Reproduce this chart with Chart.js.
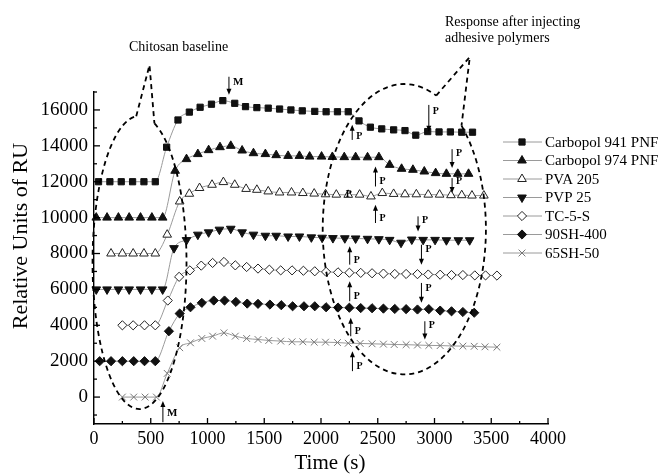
<!DOCTYPE html>
<html>
<head>
<meta charset="utf-8">
<script src="https://cdn.jsdelivr.net/npm/chart.js@4.4.1/dist/chart.umd.min.js"></script>
<style>
  html, body { margin: 0; padding: 0; background: #fff; }
  #wrap { width: 661px; height: 474px; }
</style>
</head>
<body>
<div id="wrap"><canvas id="ruChart" width="661" height="474"></canvas></div>
<script>
// Relative units of RU vs time
const seriesNames = ['Carbopol 941 PNF', 'Carbopol 974 PNF', 'PVA 205', 'PVP 25', 'TC-5-S', '90SH-400', '65SH-50'];

const t941 = [40, 140, 240, 340, 440, 540, 640, 740, 840, 935, 1035, 1135, 1240, 1335, 1435, 1535, 1635, 1735, 1835, 1945, 2045, 2145, 2240, 2335, 2435, 2535, 2640, 2740, 2835, 2940, 3040, 3140, 3240, 3335];
const ru941 = [12000, 12000, 12000, 12000, 12000, 12000, 13925, 15440, 15880, 16150, 16320, 16520, 16370, 16185, 16130, 16100, 16050, 16000, 15950, 15920, 15900, 15900, 15900, 15390, 15040, 14945, 14890, 14850, 14595, 14795, 14775, 14775, 14760, 14760];

const t974 = [20, 115, 215, 310, 410, 510, 605, 715, 815, 915, 1010, 1110, 1205, 1305, 1405, 1510, 1605, 1710, 1810, 1900, 2005, 2100, 2205, 2305, 2410, 2510, 2605, 2710, 2810, 2910, 3010, 3105, 3205, 3300];
const ru974 = [10000, 10000, 10000, 10000, 10000, 10000, 10000, 12610, 13260, 13540, 13760, 13925, 14000, 13740, 13590, 13540, 13480, 13440, 13440, 13400, 13400, 13380, 13370, 13370, 13360, 13370, 12940, 12720, 12665, 12570, 12480, 12440, 12440, 12440];

const tPVA = [150, 250, 345, 440, 540, 645, 755, 840, 930, 1040, 1140, 1240, 1340, 1435, 1535, 1635, 1740, 1840, 1940, 2040, 2135, 2240, 2340, 2440, 2540, 2640, 2740, 2840, 2945, 3045, 3145, 3240, 3330, 3435];
const ruPVA = [8000, 8000, 8000, 8000, 8000, 9050, 10900, 11330, 11650, 11830, 11980, 11830, 11600, 11550, 11460, 11400, 11400, 11370, 11340, 11300, 11280, 11270, 11280, 11180, 11370, 11320, 11300, 11300, 11280, 11280, 11250, 11250, 11230, 11230];

const tPVP = [20, 115, 215, 310, 410, 510, 605, 705, 815, 915, 1010, 1105, 1205, 1305, 1405, 1510, 1605, 1710, 1810, 1915, 2010, 2105, 2210, 2305, 2410, 2510, 2605, 2705, 2800, 2900, 3005, 3105, 3210, 3310];
const ruPVP = [6000, 6000, 6000, 6000, 6000, 6000, 6000, 8300, 8750, 9050, 9180, 9330, 9380, 9180, 9050, 8990, 8990, 8950, 8950, 8900, 8880, 8860, 8850, 8840, 8820, 8800, 8760, 8600, 8780, 8760, 8760, 8740, 8740, 8740];

const tTC = [250, 345, 445, 540, 650, 750, 845, 945, 1045, 1145, 1245, 1345, 1445, 1545, 1645, 1745, 1845, 1945, 2045, 2150, 2250, 2350, 2450, 2550, 2650, 2750, 2850, 2945, 3050, 3150, 3250, 3355, 3450, 3550];
const ruTC = [4000, 4000, 4000, 4000, 5380, 6700, 7060, 7325, 7475, 7530, 7340, 7250, 7160, 7100, 7060, 7060, 7040, 7010, 6975, 6950, 6930, 6920, 6900, 6880, 6860, 6860, 6850, 6830, 6820, 6800, 6800, 6780, 6780, 6770];

const t90SH = [50, 150, 250, 350, 445, 540, 660, 755, 850, 950, 1055, 1150, 1250, 1350, 1445, 1550, 1650, 1750, 1850, 1945, 2045, 2150, 2250, 2350, 2450, 2550, 2650, 2750, 2850, 2950, 3050, 3150, 3250, 3350];
const ru90SH = [2000, 2000, 2000, 2000, 2000, 2000, 3670, 4655, 5005, 5250, 5380, 5380, 5305, 5210, 5195, 5155, 5120, 5060, 5060, 5060, 5005, 4990, 4980, 4960, 4950, 4930, 4910, 4900, 4880, 4900, 4820, 4780, 4740, 4700];

const t65SH = [250, 350, 450, 550, 645, 755, 850, 950, 1045, 1145, 1245, 1345, 1445, 1540, 1645, 1745, 1840, 1940, 2040, 2145, 2240, 2345, 2450, 2550, 2645, 2750, 2850, 2950, 3050, 3150, 3250, 3350, 3445, 3550];
const ru65SH = [0, 0, 0, 0, 1320, 2750, 3025, 3265, 3395, 3580, 3395, 3265, 3210, 3155, 3120, 3080, 3080, 3060, 3060, 3040, 3000, 2990, 2970, 2950, 2930, 2920, 2900, 2880, 2870, 2850, 2840, 2830, 2800, 2780];

const xTicks = [0, 500, 1000, 1500, 2000, 2500, 3000, 3500, 4000];
const yTicks = [0, 2000, 4000, 6000, 8000, 10000, 12000, 14000, 16000];

// annotations in data units: injection arrows [time, tail RU, tip RU]
const pArrows = [
  [2275, 14330, 15170], [2950, 16280, 14780], [2480, 11735, 12850], [3155, 13815, 12760],
  [3155, 12200, 11370], [2480, 9700, 10720], [2855, 10070, 9230], [2253, 7380, 8400],
  [2885, 8490, 7380], [2253, 5340, 6450], [2885, 6360, 5250], [2262, 3390, 4415],
  [2915, 4225, 3210], [2277, 1445, 2560]
];
const mArrows = [[1189, 17850, 16840], [607, -1400, -220]];
const strayP = [2244, 11270];
// dashed ellipses: centre, radii, gap (parametric deg) and callout peak
const ellipses = [
  { cx: 401, cy: 7500, rx: 414, ry: 8170, gap: [-94, -71.5], peak: [489, 18500] },
  { cx: 2734, cy: 9355, rx: 719, ry: 8090, gap: [-67, -45.5], peak: [3311, 18950] }
];

const serif = "'Liberation Serif', 'Times New Roman', serif";
const lineGrey = '#9a9a9a';

const markerStyles = [
  { pointStyle: 'rect', radius: 4.4, rotation: 0, fill: '#111', stroke: '#111' },
  { pointStyle: 'triangle', radius: 5, rotation: 0, fill: '#111', stroke: '#111' },
  { pointStyle: 'triangle', radius: 5, rotation: 0, fill: '#fff', stroke: '#222' },
  { pointStyle: 'triangle', radius: 5, rotation: 180, fill: '#111', stroke: '#111' },
  { pointStyle: 'rectRot', radius: 4.6, rotation: 0, fill: '#fff', stroke: '#222' },
  { pointStyle: 'rectRot', radius: 4.6, rotation: 0, fill: '#111', stroke: '#111' },
  { pointStyle: 'crossRot', radius: 4.8, rotation: 0, fill: '#777', stroke: '#777' }
];

const times = [t941, t974, tPVA, tPVP, tTC, t90SH, t65SH];
const values = [ru941, ru974, ruPVA, ruPVP, ruTC, ru90SH, ru65SH];

const datasets = seriesNames.map((name, i) => {
  const m = markerStyles[i];
  return {
    label: name,
    data: times[i].map((t, k) => ({ x: t, y: values[i][k] })),
    borderColor: lineGrey,
    borderWidth: 1,
    cubicInterpolationMode: 'monotone',
    pointStyle: m.pointStyle,
    pointRadius: m.radius,
    pointRotation: m.rotation,
    pointBackgroundColor: m.fill,
    pointBorderColor: m.stroke,
    pointBorderWidth: 1,
    clip: false
  };
});

const annotate = {
  id: 'annotate',
  afterDraw(chart) {
    const ctx = chart.ctx;
    const xs = chart.scales.x, ys = chart.scales.y;
    const px = v => xs.getPixelForValue(v), py = v => ys.getPixelForValue(v);
    ctx.save();

    // inward tick marks
    ctx.strokeStyle = '#000';
    ctx.lineWidth = 1.3;
    for (let v = 0; v <= 4000; v += 250) {
      const len = v % 500 === 0 ? 6 : 3;
      ctx.beginPath(); ctx.moveTo(px(v), ys.bottom); ctx.lineTo(px(v), ys.bottom - len); ctx.stroke();
    }
    for (let v = -1000; v <= 17000; v += 1000) {
      const len = v % 2000 === 0 ? 6 : 3;
      ctx.beginPath(); ctx.moveTo(xs.left, py(v)); ctx.lineTo(xs.left + len, py(v)); ctx.stroke();
    }

    // dashed ellipses with callouts
    ctx.lineWidth = 1.8;
    ctx.setLineDash([5, 4]);
    ellipses.forEach(e => {
      const cx = px(e.cx), cy = py(e.cy);
      const rx = Math.abs(px(e.cx + e.rx) - cx), ry = Math.abs(py(e.cy + e.ry) - cy);
      const a1 = e.gap[0] * Math.PI / 180, a2 = e.gap[1] * Math.PI / 180;
      ctx.beginPath();
      ctx.ellipse(cx, cy, rx, ry, 0, a2, a1 + 2 * Math.PI);
      ctx.stroke();
      ctx.beginPath();
      ctx.moveTo(cx + rx * Math.cos(a1), cy + ry * Math.sin(a1));
      ctx.lineTo(px(e.peak[0]), py(e.peak[1]));
      ctx.lineTo(cx + rx * Math.cos(a2), cy + ry * Math.sin(a2));
      ctx.stroke();
    });
    ctx.setLineDash([]);

    // arrows
    ctx.fillStyle = '#000';
    ctx.lineWidth = 1;
    ctx.textAlign = 'left';
    ctx.textBaseline = 'middle';
    function arrow(a, label, font, frac) {
      const X = px(a[0]), Y0 = py(a[1]), Y1 = py(a[2]);
      const dir = Math.sign(Y1 - Y0);
      ctx.beginPath(); ctx.moveTo(X, Y0); ctx.lineTo(X, Y1 - dir * 4); ctx.stroke();
      ctx.beginPath(); ctx.moveTo(X, Y1); ctx.lineTo(X - 2.5, Y1 - dir * 6); ctx.lineTo(X + 2.5, Y1 - dir * 6); ctx.closePath(); ctx.fill();
      ctx.font = font;
      ctx.fillText(label, X + 4, Y0 + (Y1 - Y0) * frac);
    }
    pArrows.forEach(a => arrow(a, 'P', 'bold 10px ' + serif, 0.25));
    arrow(mArrows[0], 'M', 'bold 11px ' + serif, 0.3);
    arrow(mArrows[1], 'M', 'bold 11px ' + serif, 0.45);
    ctx.font = 'bold 10px ' + serif;
    ctx.fillText('P', px(strayP[0]) - 3, py(strayP[1]));

    // callout texts
    ctx.font = '14px ' + serif;
    ctx.fillText('Chitosan baseline', 129, 47);
    ctx.fillText('Response after injecting', 445, 22);
    ctx.fillText('adhesive polymers', 445, 38);

    // axis titles
    ctx.textAlign = 'center';
    ctx.font = '21px ' + serif;
    ctx.fillText('Time (s)', 330, 463);
    ctx.save();
    ctx.translate(21, 236);
    ctx.rotate(-Math.PI / 2);
    ctx.font = '22px ' + serif;
    ctx.fillText('Relative Units of RU', 0, 0);
    ctx.restore();

    // legend
    ctx.textAlign = 'left';
    ctx.font = '15px ' + serif;
    chart.data.datasets.forEach((ds, i) => {
      const m = markerStyles[i];
      const y = 142 + i * 18.5;
      ctx.strokeStyle = lineGrey;
      ctx.lineWidth = 1;
      ctx.beginPath(); ctx.moveTo(503, y); ctx.lineTo(542, y); ctx.stroke();
      ctx.fillStyle = m.fill;
      ctx.strokeStyle = m.stroke;
      Chart.helpers.drawPoint(ctx, { pointStyle: m.pointStyle, radius: m.radius, rotation: m.rotation, borderWidth: 1 }, 522, y);
      ctx.fillStyle = '#000';
      ctx.fillText(ds.label, 545, y + 1);
    });

    ctx.restore();
  }
};

new Chart(document.getElementById('ruChart').getContext('2d'), {
  type: 'line',
  data: { datasets },
  options: {
    responsive: false,
    animation: false,
    layout: { padding: { left: 0, right: 113, top: 92, bottom: 0 } },
    plugins: { legend: { display: false }, tooltip: { enabled: false } },
    scales: {
      x: {
        type: 'linear', min: 0, max: 4000,
        afterBuildTicks: s => { s.ticks = xTicks.map(v => ({ value: v })); },
        afterFit: s => { s.height = 50; },
        grid: { display: false, drawTicks: false },
        border: { display: true, color: '#000', width: 1.4 },
        ticks: { padding: 4, color: '#000', font: { family: serif, size: 18 }, callback: v => String(v) }
      },
      y: {
        type: 'linear', min: -1500, max: 17000,
        afterBuildTicks: s => { s.ticks = yTicks.map(v => ({ value: v })); },
        afterFit: s => { s.width = 94; },
        grid: { display: false, drawTicks: false },
        border: { display: true, color: '#000', width: 1.4 },
        ticks: { padding: 6, color: '#000', font: { family: serif, size: 19 }, callback: v => String(v) }
      }
    }
  },
  plugins: [annotate]
});
</script>
</body>
</html>
